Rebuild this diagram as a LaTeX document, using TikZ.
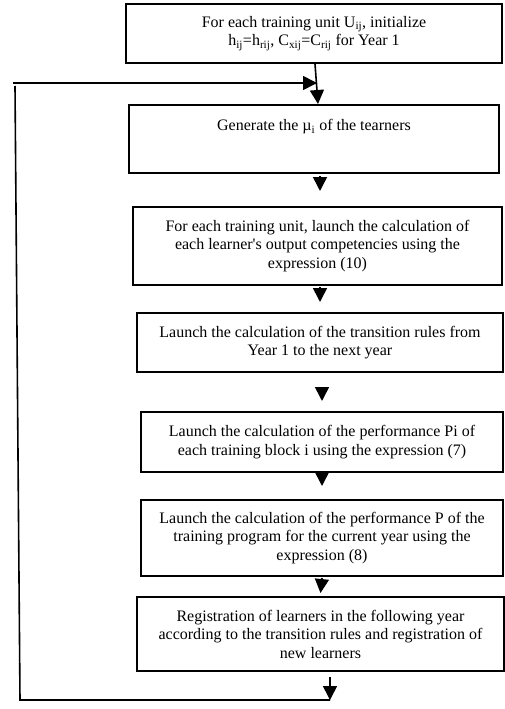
\documentclass[tikz,border=0pt]{standalone}
\usepackage{fontspec}
\setmainfont{Liberation Serif}
\usetikzlibrary{arrows.meta}

\tikzset{
  stepbox/.style={draw=black, line width=2pt, rectangle, inner sep=0pt,
    align=center, font=\fontsize{16}{18.5}\selectfont},
  conn/.style={draw=black, line width=1.6pt},
  arr/.style={conn, -{Triangle[length=14pt,width=14pt]}},
}

\begin{document}
\begin{tikzpicture}[x=1pt, y=-1pt]
  \useasboundingbox (0,0) rectangle (505,709);

  % process steps
  \node[stepbox, minimum width=376pt, minimum height=59pt] (b1) at (314,33.5)
    {For each training unit U\textsubscript{ij}, initialize\\
     h\textsubscript{ij}=h\textsubscript{rij}, C\textsubscript{xij}=C\textsubscript{rij} for Year 1};
  \node[stepbox, minimum width=370pt, minimum height=68pt] (b2) at (314,139)
    {Generate the µ\textsubscript{i} of the tearners\\[4pt]\strut};
  \node[stepbox, minimum width=369pt, minimum height=78pt] (b3) at (317.5,246)
    {For each training unit, launch the calculation of\\
     each learner\textquotesingle s output competencies using the\\
     expression (10)};
  \node[stepbox, minimum width=366pt, minimum height=59pt] (b4) at (320,342.5)
    {Launch the calculation of the transition rules from\\
     Year 1 to the next year};
  \node[stepbox, minimum width=362pt, minimum height=60pt] (b5) at (322,442)
    {Launch the calculation of the performance Pi of\\
     each training block i using the expression (7)};
  \node[stepbox, minimum width=362pt, minimum height=76pt] (b6) at (322,538)
    {Launch the calculation of the performance P of the\\
     training program for the current year using the\\
     expression (8)};
  \node[stepbox, minimum width=367pt, minimum height=74pt] (b7) at (320.5,634)
    {Registration of learners in the following year\\
     according to the transition rules and registration of\\
     new learners};

  % forward flow
  \draw[arr] ([xshift=1pt]b1.south) -- ([xshift=4pt]b2.north);
  \draw[arr] ([xshift=6pt,yshift=-2pt]b2.south) -- ([xshift=2.5pt,yshift=15pt]b3.north);
  \draw[arr] ([xshift=2.5pt,yshift=-1pt]b3.south) -- ([yshift=10pt]b4.north);
  \draw[arr] ([xshift=2pt,yshift=-15pt]b4.south) -- ([yshift=10pt]b5.north);
  \draw[arr] (b5.south) -- ([yshift=13pt]b6.north);
  \draw[arr] ([yshift=-1pt]b6.south) -- ([yshift=3pt]b7.north);

  % loop back to the next year
  \coordinate (loopb) at (330,700);
  \coordinate (loopc) at (20,700);
  \coordinate (loopt) at (15,86);
  \coordinate (feedin) at (13,83);
  \coordinate (merge) at (317,83);
  \draw[arr] ([xshift=9.5pt,yshift=-5pt]b7.south) -- (loopb);
  \draw[conn] (loopb) -- (loopc) -- (loopt);
  \draw[arr] (feedin) -- (merge);
\end{tikzpicture}
\end{document}
